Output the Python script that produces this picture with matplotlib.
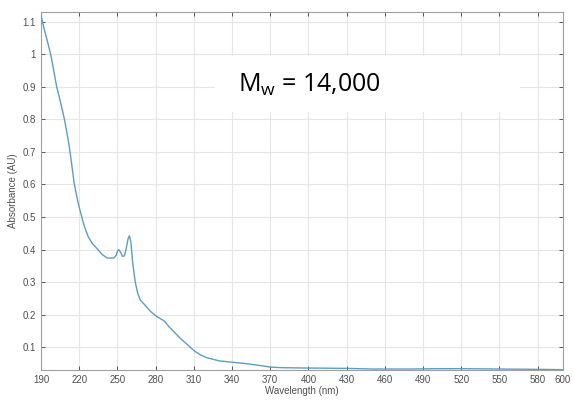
import matplotlib
matplotlib.use("Agg")
import matplotlib.pyplot as plt
from matplotlib.patches import Rectangle

longitud_onda = [190, 192, 195, 197.6, 200, 202.3, 205.5, 208.4, 211, 212.8, 214.5,
                 216, 218, 220, 222, 224, 227, 230, 234,
                 238, 242, 247, 249, 250, 251, 252.5, 254, 255.5, 257, 258.5, 259.4,
                 260.5, 262, 264, 266, 268, 272, 276, 280, 284, 287, 290, 295, 300,
                 305, 310, 315, 320, 330, 340, 350, 360, 370, 380, 400, 430, 450,
                 480, 500, 520, 550, 580, 600]
absorbancia = [1.12, 1.085, 1.04, 1.00, 0.95, 0.90, 0.85, 0.80, 0.745, 0.70, 0.65,
               0.605, 0.565, 0.53, 0.50, 0.472, 0.44,
               0.42, 0.403, 0.385, 0.374, 0.374, 0.382, 0.395, 0.40, 0.392, 0.379,
               0.381, 0.405, 0.435, 0.442, 0.425, 0.36, 0.30, 0.265, 0.245, 0.228,
               0.21, 0.197, 0.187, 0.18, 0.165, 0.145, 0.125, 0.108, 0.09, 0.077,
               0.068, 0.058, 0.054, 0.05, 0.045, 0.039, 0.037, 0.036, 0.035, 0.033,
               0.033, 0.034, 0.034, 0.033, 0.032, 0.031]

ticks_x = [190, 220, 250, 280, 310, 340, 370, 400, 430, 460, 490, 520, 550, 580, 600]
ticks_y = [0.1, 0.2, 0.3, 0.4, 0.5, 0.6, 0.7, 0.8, 0.9, 1, 1.1]
etiquetas_y = ["0.1", "0.2", "0.3", "0.4", "0.5", "0.6", "0.7", "0.8", "0.9", "1", "1.1"]

plt.rcParams['font.family'] = 'Liberation Sans'
plt.rcParams['mathtext.fontset'] = 'custom'
plt.rcParams['mathtext.rm'] = 'Open Sans'

fig = plt.figure(figsize=(5.73, 4.0), dpi=100)
ax = fig.add_axes([0.0716, 0.075, 0.911, 0.895])

ax.plot(longitud_onda, absorbancia, color='#5a9ec4', linewidth=1.0, zorder=3)

ax.set_xlim(190, 600)
ax.set_ylim(0.03, 1.13)
ax.set_xticks(ticks_x)
ax.set_yticks(ticks_y)
ax.set_yticklabels(etiquetas_y)
ax.grid(True, color='#e6e6e6', linewidth=0.8)
ax.set_axisbelow(True)
ax.tick_params(direction='in', top=True, right=True, length=3, width=0.6,
               labelsize=7, labelcolor='#505050', color='#404040')
for lado in ax.spines.values():
    lado.set_color('#a0a0a0')
    lado.set_linewidth(0.8)

ax.set_xlabel("Wavelength (nm)", fontsize=7, color='#505050', labelpad=1)
ax.set_ylabel("Absorbance (AU)", fontsize=7, color='#505050', labelpad=3)

# recuadro blanco detras del texto
ax.add_patch(Rectangle((0.333, 0.721), 0.585, 0.156, transform=ax.transAxes,
                       facecolor='white', edgecolor='none', zorder=2))
ax.text(0.515, 0.795, r"M$_{\mathrm{w}}$ = 14,000", transform=ax.transAxes,
        fontsize=18, family='Open Sans', color='black', ha='center', va='center', zorder=4)

fig.savefig("out.png", dpi=100)
